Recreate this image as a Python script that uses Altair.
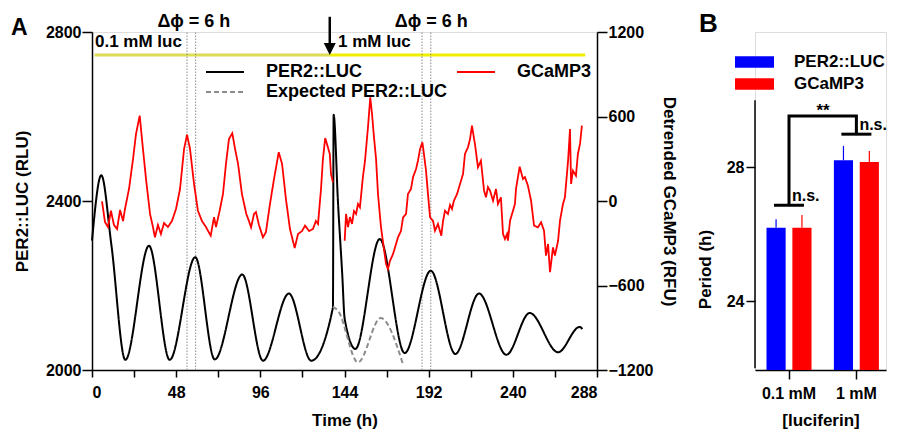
import altair as alt
import pandas as pd

FONT = "Liberation Sans"

# ---------------- Panel A data ----------------
per2_t = [0, 5.3, 11, 19, 32.5, 44.3, 58.9, 70, 85.7, 97.5, 112.3, 125, 137.4, 137.8,
          140.3, 142.7, 144.1, 150.2, 164.1, 178.3, 193.2, 207.2, 220.7, 236.3, 249.6,
          265.8, 278.1, 279.6]
per2_v = [2306, 2461, 2298, 2024, 2294, 2024, 2267, 2025, 2226, 2022, 2181, 2022, 2148, 2604,
          2395, 2227, 2121, 2050, 2310, 2040, 2235, 2038, 2181, 2036, 2135,
          2042, 2102, 2097]

exp_t = [137.4, 140.3, 151.7, 164.6, 177.4]
exp_v = [2150, 2140, 2018, 2123, 2013]

gc1_t = [5.7, 7.4, 9.1, 10.8, 12.5, 14.3, 16.0, 17.7, 18.8, 21.1, 23.4, 25.1, 27.2, 28.5,
         30.8, 33.1, 34.8, 35.9, 37.6, 39.3, 41.1, 43.3, 45.6, 47.9, 50.2, 52.5, 54.2, 55.9,
         58.2, 60.4, 62.7, 65.0, 67.7, 69.6, 70.7, 72.8, 74.7, 76.4, 78.1, 80.0, 81.6, 83.3,
         85.5, 88.0, 89.5, 90.7, 92.4, 93.5, 95.2, 97.5, 99.2, 101.5, 103.8, 106.5, 108.4,
         110.6, 112.9, 115.6, 117.5, 119.8, 121.5, 123.8, 126.0, 127.7, 128.9, 130.6, 131.7,
         133.0, 134.0, 135.6, 136.3, 137.4]
gc1_v = [-2, -149, -185, -69, -170, -199, -64, -142, -57, 85, 298, 476, 606, 440,
         156, -92, -187, -258, -170, -234, -156, -185, -142, -57, 85, 369, 471, 369,
         121, -69, -142, -185, -246, -114, -185, -69, 50, 263, 440, 481, 369, 263,
         50, -92, -142, -187, -92, -78, -170, -258, -220, -21, 156, 346, 263,
         14, -199, -334, -234, -213, -175, -213, -199, -142, -163, 85, 298,
         447, 405, 334, 192, 133]

gc2_t = [144.1, 144.9, 146.0, 147.1, 148.3, 149.4, 150.6, 151.7, 152.8, 154.5, 155.7, 157.4,
         158.7, 159.7, 160.8, 162.0, 163.1, 164.8, 166.5, 167.7, 168.8, 169.9, 171.7, 173.4,
         174.5, 176.2, 177.4, 179.1, 180.2, 181.9, 183.1, 184.8, 185.9, 187.1, 188.4, 189.3,
         190.5, 191.6, 192.8, 194.5, 195.6, 197.3, 199.2, 200.2, 201.3, 203.0, 204.2, 205.3,
         206.4, 208.2, 209.9, 211.6, 212.7, 214.4, 215.6, 216.7, 217.9, 218.4, 220.1, 221.8,
         223.6, 224.7, 225.8, 227.0, 228.7, 230.4, 231.5, 233.2, 234.4, 235.5, 236.7, 237.2,
         238.4, 240.1, 241.2, 241.8, 243.9, 245.8, 246.9, 248.6, 250.4, 252.1, 254.3, 256.1,
         257.8, 258.9, 260.1, 261.2, 262.9, 264.0, 265.8, 266.9, 268.6, 269.7, 271.5, 272.6,
         273.2, 274.3, 276.0, 277.1, 278.3, 279.4]
gc2_v = [-282, -92, -185, -114, -163, -71, -92, -21, -45, 170, 286, 525,
         736, 618, 454, 298, 50, -185, -341, -447, -483, -426, -376, -305,
         -258, -213, -116, -92, 50, 85, 170, 227, 286, 369, 417, 334,
         215, 50, -116, -142, -211, -163, -246, -142, -69, -92, -28, -57,
         2, 50, 121, 192, 334, 381, 440, 535, 440, 405, 239, 286,
         73, 26, 99, 73, 2, 85, -21, 26, -234, -270, -234, -282,
         -140, -69, -21, 85, 244, 156, 170, 109, 2, -175, -187, -151,
         -211, -388, -305, -506, -329, -388, -282, -140, -21, 26, 286, 511,
         121, 215, 180, 334, 405, 535]

series_names = ["PER2::LUC", "GCaMP3", "Expected PER2::LUC"]
legend_order = ["PER2::LUC", "Expected PER2::LUC", "GCaMP3"]
phase_lines = [54.2, 59.1, 188.2, 193.2]
dphi_t = [58.1, 193.5]
dphi_label = "\u0394\u03d5 = 6 h"
lum_t0 = [1.5, 135.6]
lum_t1 = [135.6, 281.3]
lum_level = 2745.6
luc_labels = ["0.1 mM luc", "1 mM luc"]
luc_label_t = [1.7, 140.3]
arrow_t = 135.6

# ---------------- Panel B data ----------------
conc = ["0.1 mM", "1 mM"]
groups = ["PER2::LUC", "GCaMP3"]
period_per2 = [26.20, 28.21]
period_gc = [26.20, 28.16]
errtop_per2 = [26.45, 28.64]
errtop_gc = [26.58, 28.49]
bracket_low = [26.87, 28.99]
bracket_top = 29.53
b_axis_range = [22, 30]
b_scale_domain = [21.95, 32.04]

# ---------------- frames ----------------
df_black = pd.DataFrame({"t": per2_t + exp_t, "v": per2_v + exp_v,
                         "series": ["PER2::LUC"] * len(per2_t) + ["Expected PER2::LUC"] * len(exp_t)})
df_gc = pd.DataFrame({"t": gc1_t + gc2_t, "v": gc1_v + gc2_v,
                      "seg": [1] * len(gc1_t) + [2] * len(gc2_t), "series": "GCaMP3"})
df_phase = pd.DataFrame({"t": phase_lines, "v": 2000, "v2": 2800})
df_dphi = pd.DataFrame({"t": dphi_t, "v": 2824, "label": dphi_label})
df_lum0 = pd.DataFrame({"t": [lum_t0[0]], "t2": [lum_t1[0]], "v": [lum_level]})
df_lum1 = pd.DataFrame({"t": [lum_t0[1]], "t2": [lum_t1[1]], "v": [lum_level]})
df_luc = pd.DataFrame({"t": luc_label_t, "v": 2776, "label": luc_labels})
df_arrow = pd.DataFrame({"t": [arrow_t], "v": [2836], "v2": [2768]})
df_head = pd.DataFrame({"t": [arrow_t], "v": [2759.5]})

FS = dict(labelFont=FONT, titleFont=FONT, labelFontWeight="bold", titleFontWeight="bold",
          labelColor="black", titleColor="black", domainColor="black", tickColor="black",
          domainWidth=1.5, tickWidth=1.5, grid=False)

x_scale = alt.Scale(domain=[0, 288], nice=False)
x_axis = alt.Axis(values=list(range(0, 289, 24)),
                  labelExpr="datum.value % 48 === 0 ? datum.label : ''",
                  labelOverlap=False, labelFontSize=16, tickSize=7, labelPadding=7,
                  titleFontSize=17, titlePadding=12, **FS)
X = alt.X("t:Q", scale=x_scale, axis=x_axis, title="Time (h)")

yl_scale = alt.Scale(domain=[2000, 2800], nice=False, zero=False)
yl_axis = alt.Axis(values=[2000, 2400, 2800], format="d", labelFontSize=16, tickSize=10,
                   labelPadding=1, titleFontSize=17, titlePadding=14, **FS)
YL = alt.Y("v:Q", scale=yl_scale, axis=yl_axis, title="PER2::LUC (RLU)")

yr_scale = alt.Scale(domain=[-1200, 1200], nice=False, zero=False)
yr_axis = alt.Axis(orient="right", values=[-1200, -600, 0, 600, 1200], format="d",
                   labelFontSize=16, tickSize=10, labelPadding=1, titleFontSize=17,
                   titlePadding=7, **FS)
YR = alt.Y("v:Q", scale=yr_scale, axis=yr_axis, title="Detrended GCaMP3 (RFU)")

legA = alt.Legend(orient="none", legendX=113, legendY=30, columns=2, title=None,
                  values=legend_order, labelLimit=400, clipHeight=20,
                  symbolType="stroke", symbolSize=1444, symbolStrokeWidth=2,
                  labelOffset=21, columnPadding=8, rowPadding=0,
                  labelFont=FONT, labelFontSize=18, labelFontWeight="bold", labelColor="black",
                  padding=0)
C = alt.Color("series:N", scale=alt.Scale(domain=series_names, range=["black", "#ff0000", "#8c8c8c"]),
              legend=legA)
D = alt.StrokeDash("series:N", scale=alt.Scale(domain=series_names, range=[[1, 0], [1, 0], [5, 3]]),
                   legend=legA)

black = alt.Chart(df_black).mark_line(interpolate="monotone", strokeWidth=2).encode(
    x=X, y=YL, color=C, strokeDash=D, detail="series:N")
phase = alt.Chart(df_phase).mark_rule(color="#8a8a8a", strokeWidth=1, strokeDash=[1.5, 1.5]).encode(
    x=X, y=YL, y2="v2:Q")
lum0 = alt.Chart(df_lum0).mark_rule(color="#dcdc55", strokeWidth=3).encode(x=X, x2="t2:Q", y=YL)
lum1 = alt.Chart(df_lum1).mark_rule(color="#f0ee00", strokeWidth=3).encode(x=X, x2="t2:Q", y=YL)
dphi = alt.Chart(df_dphi).mark_text(font=FONT, fontSize=18, fontWeight="bold", color="black",
                                    baseline="middle").encode(x=X, y=YL, text="label:N")
luc = alt.Chart(df_luc).mark_text(font=FONT, fontSize=17, fontWeight="bold", color="black",
                                  align="left", baseline="middle").encode(x=X, y=YL, text="label:N")
arrow = alt.Chart(df_arrow).mark_rule(color="black", strokeWidth=2.5).encode(x=X, y=YL, y2="v2:Q")
head = alt.Chart(df_head).mark_point(shape="M-1,-1L1,-1L0,1Z", filled=True, size=144,
                                     color="black", opacity=1).encode(x=X, y=YL)
letterA = alt.Chart(pd.DataFrame({"label": ["A"]})).mark_text(
    font=FONT, fontSize=23, fontWeight="bold", color="black", align="left",
    baseline="alphabetic").encode(x=alt.value(-81), y=alt.value(3), text="label:N")

left = alt.layer(lum0, lum1, phase, black, dphi, luc, arrow, head, letterA)
right = alt.Chart(df_gc).mark_line(strokeWidth=1.8).encode(
    x=X, y=YR, color=C, strokeDash=D, detail="seg:N")

panelA = alt.layer(left, right).resolve_scale(y="independent").properties(width=505, height=338)

# ---------------- Panel B ----------------
df_bar = pd.DataFrame({"conc": conc * 2, "grp": [groups[0]] * 2 + [groups[1]] * 2,
                       "period": period_per2 + period_gc, "err": errtop_per2 + errtop_gc})
df_brk = pd.DataFrame({"conc": [conc[0], conc[0], conc[1], conc[1]],
                       "p": [bracket_low[0], bracket_top, bracket_top, bracket_low[1]],
                       "i": [0, 1, 2, 3]})
df_low = pd.DataFrame({"conc": conc, "p": bracket_low})
df_star = pd.DataFrame({"conc": [conc[0]], "p": [bracket_top], "label": ["**"]})
df_ns = pd.DataFrame({"conc": conc, "p": bracket_low, "label": ["n.s.", "n.s."]})
df_yline = pd.DataFrame({"p": [b_axis_range[0]], "p2": [b_axis_range[1]]})

bx_axis = alt.Axis(labelAngle=0, labelFontSize=16, tickSize=9, labelPadding=6,
                   titleFontSize=17, titlePadding=11, **FS)
BX = alt.X("conc:N", sort=conc,
           scale=alt.Scale(paddingInner=0.332, paddingOuter=0.138, align=0.618),
           axis=bx_axis, title="[luciferin]")
BXO = alt.XOffset("grp:N", sort=groups, scale=alt.Scale(paddingInner=0.26, paddingOuter=0))
by_scale = alt.Scale(domain=b_scale_domain, nice=False, zero=False)
by_axis = alt.Axis(values=[24, 28], labelFontSize=16, tickSize=9, labelPadding=2, domain=False,
                   titleFontSize=17, titlePadding=12, titleY=237, **FS)
BY = alt.Y("period:Q", scale=by_scale, axis=by_axis, title="Period (h)")
BYp = alt.Y("p:Q", scale=by_scale, axis=by_axis, title="Period (h)")
legB = alt.Legend(orient="none", legendX=-20, legendY=19, title=None, columns=1, clipHeight=22,
                  symbolType="M-1,-0.3L1,-0.3L1,0.3L-1,0.3Z", symbolSize=1521,
                  symbolStrokeWidth=0, labelOffset=20, rowPadding=0, padding=0,
                  labelFont=FONT, labelFontSize=17, labelFontWeight="bold", labelColor="black")
BC = alt.Color("grp:N", scale=alt.Scale(domain=groups, range=["#0000ff", "#ff0000"]), legend=legB)

bars = alt.Chart(df_bar).mark_bar(opacity=1).encode(
    x=BX, xOffset=BXO, y=BY, y2=alt.datum(b_scale_domain[0]), color=BC)
errs = alt.Chart(df_bar).mark_rule(strokeWidth=1.2).encode(x=BX, xOffset=BXO, y=BY, y2="err:Q", color=BC)
yline = alt.Chart(df_yline).mark_rule(color="black", strokeWidth=1.5).encode(
    x=alt.value(0), y=BYp, y2="p2:Q")
brk = alt.Chart(df_brk).mark_line(color="black", strokeWidth=3, strokeJoin="miter").encode(
    x=BX, y=BYp, order="i:Q")
lows = alt.Chart(df_low).mark_tick(color="black", size=30, thickness=3, opacity=1).encode(x=BX, y=BYp)
star = alt.Chart(df_star).mark_text(font=FONT, fontSize=17, fontWeight="bold", color="black",
                                    baseline="alphabetic", dx=34).encode(x=BX, y=BYp, text="label:N")
ns = alt.Chart(df_ns).mark_text(font=FONT, fontSize=16, fontWeight="bold", color="black",
                                align="left", baseline="alphabetic", dx=3, dy=-4).encode(
    x=BX, y=BYp, text="label:N")
letterB = alt.Chart(pd.DataFrame({"label": ["B"]})).mark_text(
    font=FONT, fontSize=26, fontWeight="bold", color="black", align="left",
    baseline="alphabetic").encode(x=alt.value(-56), y=alt.value(0), text="label:N")

panelB = alt.layer(bars, errs, yline, brk, lows, star, ns, letterB).properties(width=131, height=338)

chart = alt.hconcat(panelA, panelB, spacing=16).resolve_scale(
    color="independent", strokeDash="independent").properties(
    padding={"left": 2, "top": 2, "right": 0, "bottom": 0}
).configure_view(stroke=None).configure(font=FONT)

chart.save("out.html", embed_options={"renderer": "svg", "actions": False})
